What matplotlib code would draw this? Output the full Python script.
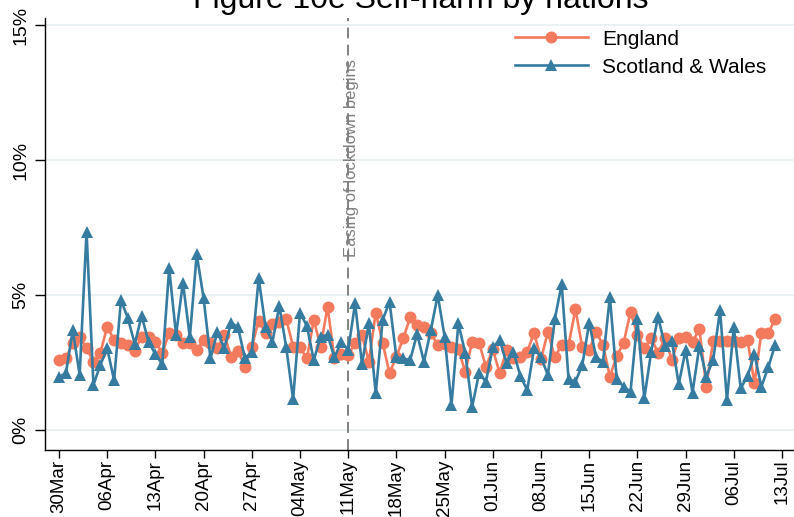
import matplotlib
matplotlib.use("Agg")
import matplotlib.pyplot as plt
import numpy as np
import pandas as pd

plt.rcParams['font.family'] = ['Liberation Sans', 'DejaVu Sans']

title = "Figure 10e Self-harm by nations"
start_date = "2020-03-30"
annotation = "Easing of lockdown begins"
event_date = "2020-05-11"

england = [2.59, 2.65, 3.21, 3.46, 3.02, 2.53, 2.84, 3.83, 3.33, 3.21,
           3.15, 2.94, 3.46, 3.46, 3.27, 2.84, 3.60, 3.52, 3.23, 3.21,
           2.95, 3.33, 3.23, 3.02, 3.52, 2.72, 2.94, 2.35, 3.09, 4.05,
           3.58, 3.93, 4.01, 4.10, 3.09, 3.06, 2.65, 4.07, 3.09, 4.57,
           2.65, 2.80, 2.78, 3.21, 3.52, 2.53, 4.35, 3.23, 2.10, 2.72,
           3.40, 4.17, 3.89, 3.80, 3.58, 3.15, 3.19, 3.09, 2.99, 2.16,
           3.27, 3.23, 2.35, 2.99, 2.10, 2.96, 2.65, 2.72, 2.90, 3.60,
           2.62, 3.64, 2.69, 3.15, 3.15, 4.47, 3.06, 2.96, 3.64, 3.15,
           1.98, 2.74, 3.23, 4.38, 3.52, 3.02, 3.40, 2.86, 3.40, 2.59,
           3.40, 3.46, 3.27, 3.73, 1.60, 3.31, 3.31, 3.31, 3.31, 3.27,
           3.33, 1.73, 3.60, 3.60, 4.10]

scotland_wales = [1.97, 2.10, 3.70, 2.04, 7.35, 1.67, 2.41, 3.02, 1.85, 4.81,
                  4.14, 3.19, 4.23, 3.27, 2.81, 2.44, 5.99, 3.52, 5.46, 3.43,
                  6.51, 4.88, 2.65, 3.64, 3.02, 3.98, 3.80, 2.65, 2.90, 5.62,
                  3.80, 3.27, 4.59, 3.06, 1.14, 4.35, 3.85, 2.59, 3.46, 3.52,
                  2.69, 3.27, 2.96, 4.69, 2.44, 3.95, 1.36, 4.07, 4.75, 2.69,
                  2.65, 2.59, 3.56, 2.53, 3.70, 5.00, 3.46, 0.93, 3.95, 2.84,
                  0.86, 2.10, 1.79, 3.06, 3.33, 2.47, 2.90, 2.00, 1.48, 3.02,
                  2.69, 2.04, 4.10, 5.41, 1.88, 1.79, 2.41, 3.98, 2.69, 2.53,
                  4.94, 1.88, 1.60, 1.42, 4.10, 1.17, 2.90, 4.20, 3.11, 3.31,
                  1.70, 2.96, 1.38, 3.11, 1.98, 2.59, 4.44, 1.11, 3.80, 1.54,
                  2.00, 2.81, 1.60, 2.32, 3.15]

series_labels = ["England", "Scotland & Wales"]
y_ticks = [0, 5, 10, 15]
y_ticklabels = ["0%", "5%", "10%", "15%"]

dates = pd.date_range(start_date, periods=len(england), freq="D")
tick_dates = pd.date_range(start_date, "2020-07-13", freq="7D")
tick_labels = [d.strftime("%d%b") for d in tick_dates]

c_eng = "#F47A5E"
c_sw = "#367BA0"

fig = plt.figure(figsize=(7.94, 5.17), dpi=100)
ax = fig.add_axes([45/794, 67/517, 749/794, 432/517])

ax.plot(dates, england, color=c_eng, lw=1.9, marker="o", ms=8.6,
        markeredgewidth=0, label=series_labels[0], zorder=3)
ax.plot(dates, scotland_wales, color=c_sw, lw=1.9, marker="^", ms=8.4,
        markeredgewidth=0, label=series_labels[1], zorder=4)

x0 = pd.Timestamp(start_date)
ax.set_xlim(x0 - pd.Timedelta(days=2.033), x0 + pd.Timedelta(days=106.74))
ax.set_ylim(-0.74, 15.26)

ax.set_yticks(y_ticks)
ax.set_yticklabels(y_ticklabels, rotation=90, va="center", fontsize=14)
ax.set_xticks(tick_dates)
ax.set_xticklabels(tick_labels, rotation=90, fontsize=13.5)
ax.tick_params(axis="y", length=7, width=1, pad=4)
ax.tick_params(axis="x", length=6, width=1, pad=1)

for yv in y_ticks:
    ax.axhline(yv, color="#E9F1F3", lw=1.4, zorder=0)

for s in ["top", "right"]:
    ax.spines[s].set_visible(False)
for s in ["left", "bottom"]:
    ax.spines[s].set_linewidth(1.0)
    ax.spines[s].set_color("black")

ev = pd.Timestamp(event_date)
ax.axvline(ev, color="#777777", lw=1.3, ls=(0, (6, 3.5)), zorder=2)
ax.text(ev + pd.Timedelta(days=0.5), 13.75, annotation, rotation=90,
        ha="center", va="top", fontsize=12, color="#808080", zorder=5)

leg = ax.legend(loc="upper left", bbox_to_anchor=(0.616, 0.992), frameon=False,
                fontsize=15, handlelength=3.5, handletextpad=0.7,
                labelspacing=0.42, borderaxespad=0)

fig.text(0.53, 1 - 8/517, title, ha="center", va="baseline", fontsize=23)

fig.savefig("out.png", dpi=100)
